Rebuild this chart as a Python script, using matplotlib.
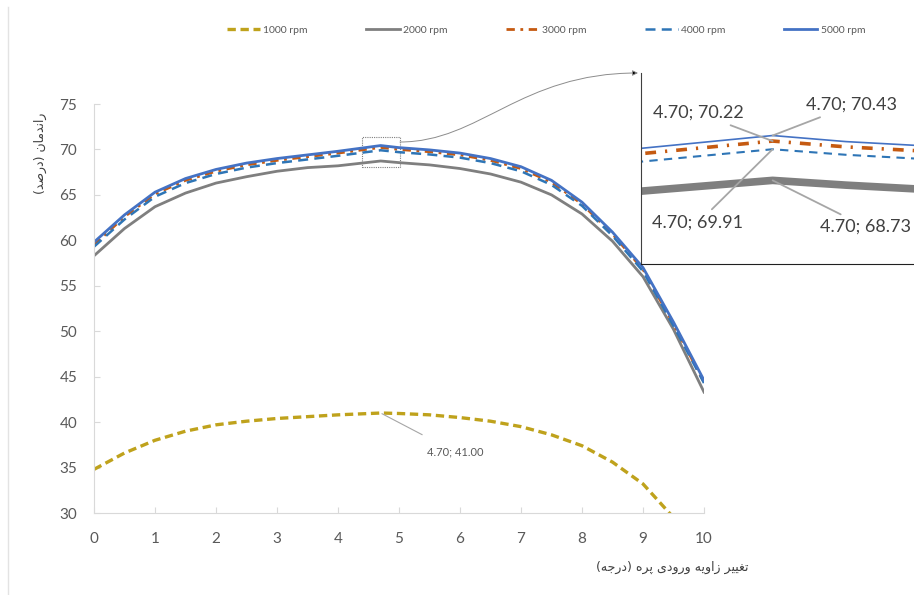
import matplotlib
matplotlib.use('Agg')
from matplotlib import pyplot as plt
from matplotlib.patches import Rectangle, FancyArrowPatch
from matplotlib.path import Path
import numpy as np

plt.rcParams['font.family'] = ['Lato', 'DejaVu Sans']

# داده‌ها (خوانده شده از نمودار)
x = [0, 0.5, 1, 1.5, 2, 2.5, 3, 3.5, 4, 4.7, 5, 5.5, 6, 6.5, 7, 7.5, 8, 8.5, 9, 9.5, 10]
rpm_1000 = [34.8, 36.6, 38.0, 39.0, 39.7, 40.1, 40.4, 40.6, 40.8, 41.0, 40.95, 40.8, 40.5, 40.1, 39.5, 38.6, 37.4, 35.6, 33.2, 29.5, 25.0]
rpm_2000 = [58.3, 61.3, 63.7, 65.2, 66.3, 67.0, 67.6, 68.0, 68.2, 68.73, 68.55, 68.3, 67.9, 67.3, 66.4, 65.0, 62.9, 59.9, 56.0, 50.2, 43.3]
rpm_3000 = [59.5, 62.6, 65.1, 66.6, 67.6, 68.3, 68.8, 69.2, 69.6, 70.22, 70.0, 69.75, 69.4, 68.8, 67.9, 66.4, 64.0, 60.7, 56.8, 50.8, 44.4]
rpm_4000 = [59.3, 62.3, 64.8, 66.3, 67.3, 68.0, 68.5, 68.9, 69.3, 69.91, 69.7, 69.45, 69.1, 68.5, 67.6, 66.1, 63.8, 60.5, 56.6, 50.6, 44.3]
rpm_5000 = [59.8, 62.8, 65.3, 66.8, 67.8, 68.5, 69.0, 69.4, 69.8, 70.43, 70.2, 69.95, 69.6, 69.0, 68.1, 66.6, 64.2, 60.9, 57.0, 51.0, 44.6]
labels = ['1000 rpm', '2000 rpm', '3000 rpm', '4000 rpm', '5000 rpm']
peak_x = 4.7

ylabel = 'راندمان (درصد)'
xlabel = 'تغییر زاویه ورودی پره (درجه)'

# شکل‌دهی ساده حروف فارسی (matplotlib خودش این کار را نمی‌کند)
FORMS = {
    'ا': ('\uFE8D', '\uFE8E', None, None),
    'د': ('\uFEA9', '\uFEAA', None, None),
    'ر': ('\uFEAD', '\uFEAE', None, None),
    'ز': ('\uFEAF', '\uFEB0', None, None),
    'و': ('\uFEED', '\uFEEE', None, None),
    'ن': ('\uFEE5', '\uFEE6', '\uFEE7', '\uFEE8'),
    'م': ('\uFEE1', '\uFEE2', '\uFEE3', '\uFEE4'),
    'ص': ('\uFEB9', '\uFEBA', '\uFEBB', '\uFEBC'),
    'ت': ('\uFE95', '\uFE96', '\uFE97', '\uFE98'),
    'غ': ('\uFECD', '\uFECE', '\uFECF', '\uFED0'),
    'ی': ('\uFBFC', '\uFBFD', '\uFBFE', '\uFBFF'),
    'ه': ('\uFEE9', '\uFEEA', '\uFEEB', '\uFEEC'),
    'پ': ('\uFB56', '\uFB57', '\uFB58', '\uFB59'),
    'ج': ('\uFE9D', '\uFE9E', '\uFE9F', '\uFEA0'),
}


def shape(s):
    out = []
    for i, c in enumerate(s):
        f = FORMS.get(c)
        if f is None:
            out.append(c)
            continue
        prev = s[i - 1] if i > 0 else ''
        nxt = s[i + 1] if i + 1 < len(s) else ''
        p = prev in FORMS and FORMS[prev][2] is not None
        n = f[2] is not None and nxt in FORMS
        out.append(f[3] if p and n else f[1] if p else f[2] if n else f[0])
    return ''.join(reversed(out)).translate(str.maketrans('()', ')('))


W, H = 914, 595
fig = plt.figure(figsize=(9.14, 5.95), dpi=100)
ax = fig.add_axes([94 / W, 1 - 513 / H, 610 / W, 409 / H])

styles = [
    dict(color='#BFA21C', lw=2.4, ls=(0, (2.5, 1.4))),
    dict(color='#7F7F7F', lw=2.0, ls='-'),
    dict(color='#C55A11', lw=2.0, ls=(0, (3, 2, 1, 2))),
    dict(color='#2E75B6', lw=1.8, ls=(0, (4, 2.5))),
    dict(color='#4472C4', lw=2.0, ls='-'),
]
series = [rpm_1000, rpm_2000, rpm_3000, rpm_4000, rpm_5000]
handles = []
for ys, st, lab in zip(series, styles, labels):
    h, = ax.plot(x, ys, label=lab, **st)
    handles.append(h)

ax.set_xlim(0, 10)
ax.set_ylim(30, 75)
ax.set_xticks(range(0, 11))
ax.set_yticks(range(30, 80, 5))
for s in ['top', 'right']:
    ax.spines[s].set_visible(False)
for s in ['left', 'bottom']:
    ax.spines[s].set_color('#D9D9D9')
ax.tick_params(direction='in', length=4, color='#D9D9D9', labelcolor='#595959', labelsize=11)
ax.tick_params(axis='x', pad=14)
ax.tick_params(axis='y', pad=12)

# برچسب 1000 rpm
ax.annotate('4.70; 41.00', xy=(peak_x, rpm_1000[x.index(peak_x)]), xytext=(427, H - 452),
            textcoords='figure pixels', ha='left', va='center', fontsize=8, color='#595959',
            arrowprops=dict(arrowstyle='-', color='#A6A6A6', lw=0.8, shrinkA=14, shrinkB=1))

# کادر بزرگنمایی
ax.add_patch(Rectangle((4.39, 68.07), 0.63, 3.3, fill=False, ls=(0, (1, 1)), lw=0.8, ec='#7F7F7F'))

# نمودار کوچک
ax_in = fig.add_axes([641 / W, 1 - 264 / H, (W - 641) / W, 191 / H])
in_styles = [
    dict(color='#7F7F7F', lw=5.5, ls='-'),
    dict(color='#C55A11', lw=2.6, ls=(0, (3, 2.5, 0.6, 2.5))),
    dict(color='#2E75B6', lw=1.5, ls=(0, (4, 3))),
    dict(color='#4472C4', lw=1.2, ls='-'),
]
for ys, st in zip(series[1:], in_styles):
    ax_in.plot(x, ys, **st)
ax_in.set_xlim(4.16, 5.28)
ax_in.set_ylim(65.56, 72.8)
ax_in.set_xticks([])
ax_in.set_yticks([])
for s in ['top', 'right']:
    ax_in.spines[s].set_visible(False)
ax_in.spines['left'].set_color('#404040')
ax_in.spines['bottom'].set_color('#202020')
ax_in.patch.set_alpha(0)

ann = [
    ('4.70; 70.22', rpm_3000, (698, 113)),
    ('4.70; 70.43', rpm_5000, (852, 105)),
    ('4.70; 69.91', rpm_4000, (698, 223)),
    ('4.70; 68.73', rpm_2000, (866, 227)),
]
for txt, ys, (tx, ty) in ann:
    ax_in.annotate(txt, xy=(peak_x, ys[x.index(peak_x)]), xytext=(tx, H - ty),
                   textcoords='figure pixels', ha='center', va='center', fontsize=13, color='#404040',
                   arrowprops=dict(arrowstyle='-', color='#A6A6A6', lw=1.3, shrinkA=3, shrinkB=0))

# خط اتصال منحنی
pts = [(400, 142), (480, 142), (520, 73), (638, 73)]
verts = [(px / W, 1 - py / H) for px, py in pts]
path = Path(verts, [Path.MOVETO, Path.CURVE4, Path.CURVE4, Path.CURVE4])
fig.patches.append(FancyArrowPatch(path=path, arrowstyle='-|>', mutation_scale=8, lw=0.7,
                                   color='#8C8C8C', fc='black', transform=fig.transFigure))

# عنوان محورها
fig.text(40 / W, 1 - 153 / H, shape(ylabel), rotation=90, ha='center', va='center',
         fontsize=9, color='#404040', family=['DejaVu Sans'])
fig.text(672 / W, 1 - 567 / H, shape(xlabel), ha='center', va='center',
         fontsize=9, color='#404040', family=['DejaVu Sans'])

fig.legend(handles, labels, loc='center', bbox_to_anchor=(546 / W, 1 - 30 / H), ncol=5,
           frameon=False, fontsize=7.5, handlelength=3.2, handletextpad=0.3, columnspacing=5.6,
           labelcolor='#595959')

# قاب بیرونی
fig.add_artist(plt.Line2D([8 / W, 8 / W], [0, 1 - 7 / H], transform=fig.transFigure, color='#E3E3E3', lw=1))

plt.savefig('out.png', dpi=100)
